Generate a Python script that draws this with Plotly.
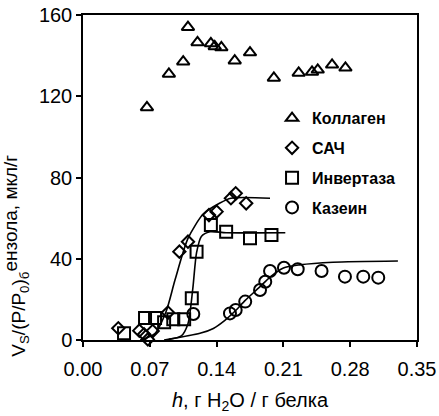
import plotly.graph_objects as go

# Hydration h, g H2O / g protein, and benzene sorption Vs/(P/P0), µl/g
h_collagen = [0.067, 0.090, 0.105, 0.110, 0.120, 0.134, 0.138, 0.145, 0.159, 0.175,
              0.200, 0.226, 0.240, 0.246, 0.261, 0.275]
v_collagen = [114.5, 131.0, 137.0, 154.0, 146.5, 146.0, 144.5, 144.0, 137.5, 141.5,
              129.0, 131.5, 132.0, 133.0, 135.5, 134.0]

h_sac = [0.037, 0.059, 0.064, 0.068, 0.073, 0.089, 0.101, 0.110, 0.132, 0.140,
         0.155, 0.160, 0.171]
v_sac = [5.8, 4.6, 2.8, 0.3, 4.4, 13.5, 43.5, 48.4, 61.5, 63.2, 69.8, 72.2, 67.3]

h_inv = [0.043, 0.065, 0.0755, 0.085, 0.0946, 0.106, 0.114, 0.119, 0.134, 0.150,
         0.175, 0.1975]
v_inv = [3.3, 10.8, 10.8, 8.8, 10.2, 10.2, 20.5, 43.5, 56.6, 53.3, 50.1, 51.7]

h_cas = [0.1156, 0.154, 0.160, 0.170, 0.1855, 0.191, 0.196, 0.2106, 0.225, 0.250,
         0.2745, 0.2937, 0.3094]
v_cas = [12.8, 13.1, 14.8, 18.9, 24.6, 28.7, 34.0, 35.6, 34.8, 34.0, 31.2, 31.2, 30.7]

# Fitted sorption curves
fit_sac_h = [0.060, 0.075, 0.087, 0.0964, 0.110, 0.126, 0.143, 0.155, 0.196]
fit_sac_v = [0.0, 3.0, 13.9, 29.5, 50.0, 62.0, 67.3, 69.8, 69.8]

fit_inv_h = [0.090, 0.103, 0.110, 0.115, 0.119, 0.124, 0.133, 0.150, 0.212]
fit_inv_v = [0.3, 2.0, 8.0, 25.0, 43.0, 51.0, 53.3, 52.8, 52.8]

fit_cas_h = [0.085, 0.1226, 0.1366, 0.149, 0.160, 0.170, 0.185, 0.196, 0.210,
             0.227, 0.262, 0.330]
fit_cas_v = [0.0, 3.3, 5.7, 9.8, 14.5, 19.5, 26.0, 31.0, 35.5, 37.0, 38.3, 38.9]

x_ticks = [0.00, 0.07, 0.14, 0.21, 0.28, 0.35]
y_ticks = [0, 40, 80, 120, 160]

FONT = "Liberation Sans, Arial, sans-serif"

fig = go.Figure()

for fh, fv in [(fit_sac_h, fit_sac_v), (fit_inv_h, fit_inv_v), (fit_cas_h, fit_cas_v)]:
    fig.add_trace(go.Scatter(
        x=fh, y=fv, mode="lines", showlegend=False, hoverinfo="skip",
        line=dict(color="black", width=1.6, shape="spline", smoothing=0.7),
        cliponaxis=False,
    ))

series = [
    ("Коллаген", h_collagen, v_collagen, "triangle-up-open", 11),
    ("САЧ", h_sac, v_sac, "diamond-open", 9.5),
    ("Инвертаза", h_inv, v_inv, "square-open", 12),
    ("Казеин", h_cas, v_cas, "circle-open", 12),
]
for i, (name, hx, vy, sym, sz) in enumerate(series):
    fig.add_trace(go.Scatter(
        x=hx, y=vy, mode="markers", name=name, legendgroup=name,
        marker=dict(symbol=sym, size=sz, color="black",
                    line=dict(color="black", width=2)),
        cliponaxis=False,
    ))

fig.update_layout(
    width=439, height=416,
    margin=dict(l=83, r=22, t=15, b=76, autoexpand=False),
    paper_bgcolor="white", plot_bgcolor="white",
    font=dict(family=FONT, size=20, color="black"),
    legend=dict(
        x=0.566, y=0.735, xanchor="left", yanchor="top",
        bgcolor="rgba(0,0,0,0)", borderwidth=0,
        font=dict(family=FONT, size=16, color="black", weight="bold"),
        tracegroupgap=6, itemwidth=30,
    ),
    xaxis=dict(
        range=[0, 0.35], tickvals=x_ticks, tickformat=".2f",
        showline=True, linecolor="black", linewidth=1.5, mirror=True,
        ticks="outside", ticklen=5, tickwidth=1.5, tickcolor="black",
        showgrid=False, zeroline=False, ticklabelstandoff=5, automargin=False,
        tickfont=dict(size=20),
        title=dict(text="<i>h</i>, г H<sub>2</sub>O / г белка",
                   font=dict(size=20), standoff=14),
    ),
    yaxis=dict(
        range=[0, 160], tickvals=y_ticks,
        showline=True, linecolor="black", linewidth=1.5, mirror=True,
        ticks="outside", ticklen=5, tickwidth=1.5, tickcolor="black",
        showgrid=False, zeroline=False, automargin=False,
        tickfont=dict(size=20),
    ),
)

fig.add_annotation(
    text=("V<sub>S</sub>/(P/P<sub>0</sub>)<sub>б</sub>"
          "<sup><span style='font-size:19px'>ензола, мкл/г</span></sup>"),
    xref="paper", yref="paper", x=-0.201, y=0.259,
    xanchor="center", yanchor="middle", textangle=-90, showarrow=False,
    font=dict(family=FONT, size=19, color="black"),
)

fig.write_html("out.html")
